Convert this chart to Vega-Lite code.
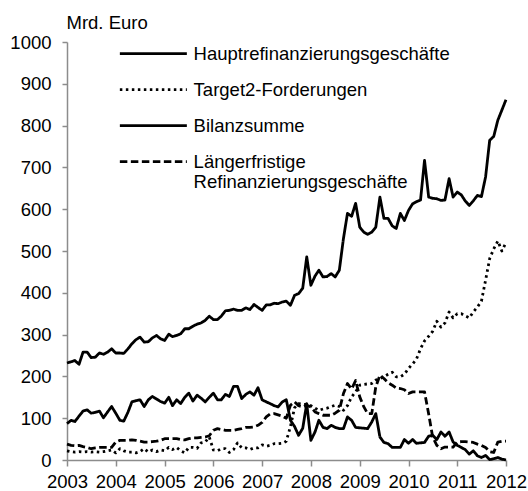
{
  "$schema": "https://vega.github.io/schema/vega-lite/v6.json",
  "width": 439,
  "height": 418,
  "autosize": {"type": "none"},
  "padding": {"left": 67, "top": 42, "right": 22, "bottom": 31},
  "background": "white",
  "config": {"view": {"stroke": null}, "font": "Liberation Sans"},
  "data": {"values": [
    {"Monat":"2003-01-01","Hauptrefinanzierungsgeschäfte":87,"Target2-Forderungen":22,"Bilanzsumme":232,"Längerfristige Refinanzierungsgeschäfte":38},
    {"Monat":"2003-02-01","Hauptrefinanzierungsgeschäfte":95,"Target2-Forderungen":20,"Bilanzsumme":235,"Längerfristige Refinanzierungsgeschäfte":35},
    {"Monat":"2003-03-01","Hauptrefinanzierungsgeschäfte":92,"Target2-Forderungen":19,"Bilanzsumme":238,"Längerfristige Refinanzierungsgeschäfte":34},
    {"Monat":"2003-04-01","Hauptrefinanzierungsgeschäfte":105,"Target2-Forderungen":20,"Bilanzsumme":229,"Längerfristige Refinanzierungsgeschäfte":35},
    {"Monat":"2003-05-01","Hauptrefinanzierungsgeschäfte":117,"Target2-Forderungen":19,"Bilanzsumme":258,"Längerfristige Refinanzierungsgeschäfte":32},
    {"Monat":"2003-06-01","Hauptrefinanzierungsgeschäfte":120,"Target2-Forderungen":20,"Bilanzsumme":258,"Längerfristige Refinanzierungsgeschäfte":30},
    {"Monat":"2003-07-01","Hauptrefinanzierungsgeschäfte":112,"Target2-Forderungen":19,"Bilanzsumme":245,"Längerfristige Refinanzierungsgeschäfte":27},
    {"Monat":"2003-08-01","Hauptrefinanzierungsgeschäfte":114,"Target2-Forderungen":20,"Bilanzsumme":246,"Längerfristige Refinanzierungsgeschäfte":29},
    {"Monat":"2003-09-01","Hauptrefinanzierungsgeschäfte":117,"Target2-Forderungen":19,"Bilanzsumme":256,"Längerfristige Refinanzierungsgeschäfte":30},
    {"Monat":"2003-10-01","Hauptrefinanzierungsgeschäfte":101,"Target2-Forderungen":20,"Bilanzsumme":253,"Längerfristige Refinanzierungsgeschäfte":30},
    {"Monat":"2003-11-01","Hauptrefinanzierungsgeschäfte":115,"Target2-Forderungen":22,"Bilanzsumme":258,"Längerfristige Refinanzierungsgeschäfte":30},
    {"Monat":"2003-12-01","Hauptrefinanzierungsgeschäfte":128,"Target2-Forderungen":24,"Bilanzsumme":266,"Längerfristige Refinanzierungsgeschäfte":30},
    {"Monat":"2004-01-01","Hauptrefinanzierungsgeschäfte":112,"Target2-Forderungen":17,"Bilanzsumme":256,"Längerfristige Refinanzierungsgeschäfte":43},
    {"Monat":"2004-02-01","Hauptrefinanzierungsgeschäfte":95,"Target2-Forderungen":27,"Bilanzsumme":256,"Längerfristige Refinanzierungsgeschäfte":47},
    {"Monat":"2004-03-01","Hauptrefinanzierungsgeschäfte":93,"Target2-Forderungen":22,"Bilanzsumme":255,"Längerfristige Refinanzierungsgeschäfte":47},
    {"Monat":"2004-04-01","Hauptrefinanzierungsgeschäfte":114,"Target2-Forderungen":19,"Bilanzsumme":266,"Längerfristige Refinanzierungsgeschäfte":47},
    {"Monat":"2004-05-01","Hauptrefinanzierungsgeschäfte":139,"Target2-Forderungen":19,"Bilanzsumme":278,"Längerfristige Refinanzierungsgeschäfte":48},
    {"Monat":"2004-06-01","Hauptrefinanzierungsgeschäfte":142,"Target2-Forderungen":17,"Bilanzsumme":288,"Längerfristige Refinanzierungsgeschäfte":47},
    {"Monat":"2004-07-01","Hauptrefinanzierungsgeschäfte":144,"Target2-Forderungen":20,"Bilanzsumme":294,"Längerfristige Refinanzierungsgeschäfte":45},
    {"Monat":"2004-08-01","Hauptrefinanzierungsgeschäfte":128,"Target2-Forderungen":27,"Bilanzsumme":282,"Längerfristige Refinanzierungsgeschäfte":43},
    {"Monat":"2004-09-01","Hauptrefinanzierungsgeschäfte":144,"Target2-Forderungen":19,"Bilanzsumme":283,"Längerfristige Refinanzierungsgeschäfte":43},
    {"Monat":"2004-10-01","Hauptrefinanzierungsgeschäfte":152,"Target2-Forderungen":24,"Bilanzsumme":292,"Längerfristige Refinanzierungsgeschäfte":44},
    {"Monat":"2004-11-01","Hauptrefinanzierungsgeschäfte":146,"Target2-Forderungen":20,"Bilanzsumme":298,"Längerfristige Refinanzierungsgeschäfte":45},
    {"Monat":"2004-12-01","Hauptrefinanzierungsgeschäfte":140,"Target2-Forderungen":24,"Bilanzsumme":290,"Längerfristige Refinanzierungsgeschäfte":47},
    {"Monat":"2005-01-01","Hauptrefinanzierungsgeschäfte":136,"Target2-Forderungen":22,"Bilanzsumme":286,"Längerfristige Refinanzierungsgeschäfte":51},
    {"Monat":"2005-02-01","Hauptrefinanzierungsgeschäfte":150,"Target2-Forderungen":30,"Bilanzsumme":301,"Längerfristige Refinanzierungsgeschäfte":51},
    {"Monat":"2005-03-01","Hauptrefinanzierungsgeschäfte":130,"Target2-Forderungen":25,"Bilanzsumme":295,"Längerfristige Refinanzierungsgeschäfte":51},
    {"Monat":"2005-04-01","Hauptrefinanzierungsgeschäfte":144,"Target2-Forderungen":30,"Bilanzsumme":298,"Längerfristige Refinanzierungsgeschäfte":51},
    {"Monat":"2005-05-01","Hauptrefinanzierungsgeschäfte":135,"Target2-Forderungen":22,"Bilanzsumme":302,"Längerfristige Refinanzierungsgeschäfte":49},
    {"Monat":"2005-06-01","Hauptrefinanzierungsgeschäfte":150,"Target2-Forderungen":17,"Bilanzsumme":314,"Längerfristige Refinanzierungsgeschäfte":48},
    {"Monat":"2005-07-01","Hauptrefinanzierungsgeschäfte":160,"Target2-Forderungen":30,"Bilanzsumme":314,"Längerfristige Refinanzierungsgeschäfte":51},
    {"Monat":"2005-08-01","Hauptrefinanzierungsgeschäfte":141,"Target2-Forderungen":30,"Bilanzsumme":320,"Längerfristige Refinanzierungsgeschäfte":53},
    {"Monat":"2005-09-01","Hauptrefinanzierungsgeschäfte":155,"Target2-Forderungen":28,"Bilanzsumme":325,"Längerfristige Refinanzierungsgeschäfte":53},
    {"Monat":"2005-10-01","Hauptrefinanzierungsgeschäfte":148,"Target2-Forderungen":41,"Bilanzsumme":328,"Längerfristige Refinanzierungsgeschäfte":54},
    {"Monat":"2005-11-01","Hauptrefinanzierungsgeschäfte":139,"Target2-Forderungen":43,"Bilanzsumme":334,"Längerfristige Refinanzierungsgeschäfte":55},
    {"Monat":"2005-12-01","Hauptrefinanzierungsgeschäfte":150,"Target2-Forderungen":55,"Bilanzsumme":344,"Längerfristige Refinanzierungsgeschäfte":58},
    {"Monat":"2006-01-01","Hauptrefinanzierungsgeschäfte":160,"Target2-Forderungen":24,"Bilanzsumme":336,"Längerfristige Refinanzierungsgeschäfte":71},
    {"Monat":"2006-02-01","Hauptrefinanzierungsgeschäfte":144,"Target2-Forderungen":22,"Bilanzsumme":336,"Längerfristige Refinanzierungsgeschäfte":75},
    {"Monat":"2006-03-01","Hauptrefinanzierungsgeschäfte":144,"Target2-Forderungen":27,"Bilanzsumme":344,"Längerfristige Refinanzierungsgeschäfte":73},
    {"Monat":"2006-04-01","Hauptrefinanzierungsgeschäfte":157,"Target2-Forderungen":27,"Bilanzsumme":357,"Längerfristige Refinanzierungsgeschäfte":71},
    {"Monat":"2006-05-01","Hauptrefinanzierungsgeschäfte":152,"Target2-Forderungen":18,"Bilanzsumme":358,"Längerfristige Refinanzierungsgeschäfte":71},
    {"Monat":"2006-06-01","Hauptrefinanzierungsgeschäfte":176,"Target2-Forderungen":25,"Bilanzsumme":361,"Längerfristige Refinanzierungsgeschäfte":71},
    {"Monat":"2006-07-01","Hauptrefinanzierungsgeschäfte":176,"Target2-Forderungen":41,"Bilanzsumme":358,"Längerfristige Refinanzierungsgeschäfte":73},
    {"Monat":"2006-08-01","Hauptrefinanzierungsgeschäfte":147,"Target2-Forderungen":29,"Bilanzsumme":358,"Längerfristige Refinanzierungsgeschäfte":75},
    {"Monat":"2006-09-01","Hauptrefinanzierungsgeschäfte":157,"Target2-Forderungen":29,"Bilanzsumme":364,"Längerfristige Refinanzierungsgeschäfte":78},
    {"Monat":"2006-10-01","Hauptrefinanzierungsgeschäfte":163,"Target2-Forderungen":25,"Bilanzsumme":360,"Längerfristige Refinanzierungsgeschäfte":78},
    {"Monat":"2006-11-01","Hauptrefinanzierungsgeschäfte":155,"Target2-Forderungen":29,"Bilanzsumme":372,"Längerfristige Refinanzierungsgeschäfte":79},
    {"Monat":"2006-12-01","Hauptrefinanzierungsgeschäfte":173,"Target2-Forderungen":29,"Bilanzsumme":365,"Längerfristige Refinanzierungsgeschäfte":83},
    {"Monat":"2007-01-01","Hauptrefinanzierungsgeschäfte":144,"Target2-Forderungen":36,"Bilanzsumme":358,"Längerfristige Refinanzierungsgeschäfte":90},
    {"Monat":"2007-02-01","Hauptrefinanzierungsgeschäfte":139,"Target2-Forderungen":33,"Bilanzsumme":371,"Längerfristige Refinanzierungsgeschäfte":103},
    {"Monat":"2007-03-01","Hauptrefinanzierungsgeschäfte":135,"Target2-Forderungen":35,"Bilanzsumme":371,"Längerfristige Refinanzierungsgeschäfte":110},
    {"Monat":"2007-04-01","Hauptrefinanzierungsgeschäfte":130,"Target2-Forderungen":39,"Bilanzsumme":375,"Längerfristige Refinanzierungsgeschäfte":111},
    {"Monat":"2007-05-01","Hauptrefinanzierungsgeschäfte":127,"Target2-Forderungen":39,"Bilanzsumme":374,"Längerfristige Refinanzierungsgeschäfte":108},
    {"Monat":"2007-06-01","Hauptrefinanzierungsgeschäfte":139,"Target2-Forderungen":40,"Bilanzsumme":378,"Längerfristige Refinanzierungsgeschäfte":105},
    {"Monat":"2007-07-01","Hauptrefinanzierungsgeschäfte":144,"Target2-Forderungen":45,"Bilanzsumme":380,"Längerfristige Refinanzierungsgeschäfte":100},
    {"Monat":"2007-08-01","Hauptrefinanzierungsgeschäfte":95,"Target2-Forderungen":80,"Bilanzsumme":370,"Längerfristige Refinanzierungsgeschäfte":131},
    {"Monat":"2007-09-01","Hauptrefinanzierungsgeschäfte":80,"Target2-Forderungen":125,"Bilanzsumme":394,"Längerfristige Refinanzierungsgeschäfte":139},
    {"Monat":"2007-10-01","Hauptrefinanzierungsgeschäfte":59,"Target2-Forderungen":135,"Bilanzsumme":398,"Längerfristige Refinanzierungsgeschäfte":130},
    {"Monat":"2007-11-01","Hauptrefinanzierungsgeschäfte":76,"Target2-Forderungen":133,"Bilanzsumme":411,"Längerfristige Refinanzierungsgeschäfte":127},
    {"Monat":"2007-12-01","Hauptrefinanzierungsgeschäfte":135,"Target2-Forderungen":133,"Bilanzsumme":486,"Längerfristige Refinanzierungsgeschäfte":131},
    {"Monat":"2008-01-01","Hauptrefinanzierungsgeschäfte":47,"Target2-Forderungen":130,"Bilanzsumme":418,"Längerfristige Refinanzierungsgeschäfte":127},
    {"Monat":"2008-02-01","Hauptrefinanzierungsgeschäfte":67,"Target2-Forderungen":124,"Bilanzsumme":440,"Längerfristige Refinanzierungsgeschäfte":115},
    {"Monat":"2008-03-01","Hauptrefinanzierungsgeschäfte":95,"Target2-Forderungen":119,"Bilanzsumme":454,"Längerfristige Refinanzierungsgeschäfte":111},
    {"Monat":"2008-04-01","Hauptrefinanzierungsgeschäfte":78,"Target2-Forderungen":122,"Bilanzsumme":438,"Längerfristige Refinanzierungsgeschäfte":107},
    {"Monat":"2008-05-01","Hauptrefinanzierungsgeschäfte":75,"Target2-Forderungen":124,"Bilanzsumme":439,"Längerfristige Refinanzierungsgeschäfte":107},
    {"Monat":"2008-06-01","Hauptrefinanzierungsgeschäfte":83,"Target2-Forderungen":128,"Bilanzsumme":446,"Längerfristige Refinanzierungsgeschäfte":107},
    {"Monat":"2008-07-01","Hauptrefinanzierungsgeschäfte":78,"Target2-Forderungen":131,"Bilanzsumme":438,"Längerfristige Refinanzierungsgeschäfte":112},
    {"Monat":"2008-08-01","Hauptrefinanzierungsgeschäfte":75,"Target2-Forderungen":128,"Bilanzsumme":454,"Längerfristige Refinanzierungsgeschäfte":119},
    {"Monat":"2008-09-01","Hauptrefinanzierungsgeschäfte":75,"Target2-Forderungen":119,"Bilanzsumme":530,"Längerfristige Refinanzierungsgeschäfte":159},
    {"Monat":"2008-10-01","Hauptrefinanzierungsgeschäfte":103,"Target2-Forderungen":130,"Bilanzsumme":590,"Längerfristige Refinanzierungsgeschäfte":183},
    {"Monat":"2008-11-01","Hauptrefinanzierungsgeschäfte":95,"Target2-Forderungen":151,"Bilanzsumme":583,"Längerfristige Refinanzierungsgeschäfte":170},
    {"Monat":"2008-12-01","Hauptrefinanzierungsgeschäfte":78,"Target2-Forderungen":163,"Bilanzsumme":614,"Längerfristige Refinanzierungsgeschäfte":190},
    {"Monat":"2009-01-01","Hauptrefinanzierungsgeschäfte":77,"Target2-Forderungen":179,"Bilanzsumme":557,"Längerfristige Refinanzierungsgeschäfte":151},
    {"Monat":"2009-02-01","Hauptrefinanzierungsgeschäfte":76,"Target2-Forderungen":181,"Bilanzsumme":545,"Längerfristige Refinanzierungsgeschäfte":127},
    {"Monat":"2009-03-01","Hauptrefinanzierungsgeschäfte":75,"Target2-Forderungen":182,"Bilanzsumme":540,"Längerfristige Refinanzierungsgeschäfte":111},
    {"Monat":"2009-04-01","Hauptrefinanzierungsgeschäfte":91,"Target2-Forderungen":183,"Bilanzsumme":545,"Längerfristige Refinanzierungsgeschäfte":111},
    {"Monat":"2009-05-01","Hauptrefinanzierungsgeschäfte":111,"Target2-Forderungen":191,"Bilanzsumme":557,"Längerfristige Refinanzierungsgeschäfte":175},
    {"Monat":"2009-06-01","Hauptrefinanzierungsgeschäfte":55,"Target2-Forderungen":195,"Bilanzsumme":629,"Längerfristige Refinanzierungsgeschäfte":203},
    {"Monat":"2009-07-01","Hauptrefinanzierungsgeschäfte":42,"Target2-Forderungen":199,"Bilanzsumme":578,"Längerfristige Refinanzierungsgeschäfte":195},
    {"Monat":"2009-08-01","Hauptrefinanzierungsgeschäfte":39,"Target2-Forderungen":205,"Bilanzsumme":578,"Längerfristige Refinanzierungsgeschäfte":185},
    {"Monat":"2009-09-01","Hauptrefinanzierungsgeschäfte":30,"Target2-Forderungen":210,"Bilanzsumme":560,"Längerfristige Refinanzierungsgeschäfte":179},
    {"Monat":"2009-10-01","Hauptrefinanzierungsgeschäfte":30,"Target2-Forderungen":199,"Bilanzsumme":554,"Längerfristige Refinanzierungsgeschäfte":172},
    {"Monat":"2009-11-01","Hauptrefinanzierungsgeschäfte":30,"Target2-Forderungen":199,"Bilanzsumme":590,"Längerfristige Refinanzierungsgeschäfte":171},
    {"Monat":"2009-12-01","Hauptrefinanzierungsgeschäfte":49,"Target2-Forderungen":205,"Bilanzsumme":573,"Längerfristige Refinanzierungsgeschäfte":168},
    {"Monat":"2010-01-01","Hauptrefinanzierungsgeschäfte":40,"Target2-Forderungen":219,"Bilanzsumme":597,"Längerfristige Refinanzierungsgeschäfte":159},
    {"Monat":"2010-02-01","Hauptrefinanzierungsgeschäfte":49,"Target2-Forderungen":230,"Bilanzsumme":613,"Längerfristige Refinanzierungsgeschäfte":163},
    {"Monat":"2010-03-01","Hauptrefinanzierungsgeschäfte":40,"Target2-Forderungen":241,"Bilanzsumme":618,"Längerfristige Refinanzierungsgeschäfte":163},
    {"Monat":"2010-04-01","Hauptrefinanzierungsgeschäfte":41,"Target2-Forderungen":266,"Bilanzsumme":622,"Längerfristige Refinanzierungsgeschäfte":163},
    {"Monat":"2010-05-01","Hauptrefinanzierungsgeschäfte":42,"Target2-Forderungen":285,"Bilanzsumme":717,"Längerfristige Refinanzierungsgeschäfte":163},
    {"Monat":"2010-06-01","Hauptrefinanzierungsgeschäfte":57,"Target2-Forderungen":296,"Bilanzsumme":629,"Längerfristige Refinanzierungsgeschäfte":110},
    {"Monat":"2010-07-01","Hauptrefinanzierungsgeschäfte":59,"Target2-Forderungen":308,"Bilanzsumme":626,"Längerfristige Refinanzierungsgeschäfte":55},
    {"Monat":"2010-08-01","Hauptrefinanzierungsgeschäfte":49,"Target2-Forderungen":332,"Bilanzsumme":625,"Längerfristige Refinanzierungsgeschäfte":35},
    {"Monat":"2010-09-01","Hauptrefinanzierungsgeschäfte":67,"Target2-Forderungen":318,"Bilanzsumme":621,"Längerfristige Refinanzierungsgeschäfte":27},
    {"Monat":"2010-10-01","Hauptrefinanzierungsgeschäfte":57,"Target2-Forderungen":328,"Bilanzsumme":622,"Längerfristige Refinanzierungsgeschäfte":31},
    {"Monat":"2010-11-01","Hauptrefinanzierungsgeschäfte":67,"Target2-Forderungen":354,"Bilanzsumme":673,"Längerfristige Refinanzierungsgeschäfte":31},
    {"Monat":"2010-12-01","Hauptrefinanzierungsgeschäfte":43,"Target2-Forderungen":340,"Bilanzsumme":629,"Längerfristige Refinanzierungsgeschäfte":31},
    {"Monat":"2011-01-01","Hauptrefinanzierungsgeschäfte":35,"Target2-Forderungen":350,"Bilanzsumme":641,"Längerfristige Refinanzierungsgeschäfte":43},
    {"Monat":"2011-02-01","Hauptrefinanzierungsgeschäfte":30,"Target2-Forderungen":350,"Bilanzsumme":634,"Längerfristige Refinanzierungsgeschäfte":44},
    {"Monat":"2011-03-01","Hauptrefinanzierungsgeschäfte":25,"Target2-Forderungen":345,"Bilanzsumme":620,"Längerfristige Refinanzierungsgeschäfte":44},
    {"Monat":"2011-04-01","Hauptrefinanzierungsgeschäfte":14,"Target2-Forderungen":340,"Bilanzsumme":609,"Längerfristige Refinanzierungsgeschäfte":43},
    {"Monat":"2011-05-01","Hauptrefinanzierungsgeschäfte":22,"Target2-Forderungen":354,"Bilanzsumme":620,"Längerfristige Refinanzierungsgeschäfte":42},
    {"Monat":"2011-06-01","Hauptrefinanzierungsgeschäfte":10,"Target2-Forderungen":366,"Bilanzsumme":633,"Längerfristige Refinanzierungsgeschäfte":38},
    {"Monat":"2011-07-01","Hauptrefinanzierungsgeschäfte":6,"Target2-Forderungen":380,"Bilanzsumme":630,"Längerfristige Refinanzierungsgeschäfte":35},
    {"Monat":"2011-08-01","Hauptrefinanzierungsgeschäfte":11,"Target2-Forderungen":430,"Bilanzsumme":677,"Längerfristige Refinanzierungsgeschäfte":30},
    {"Monat":"2011-09-01","Hauptrefinanzierungsgeschäfte":1,"Target2-Forderungen":482,"Bilanzsumme":765,"Längerfristige Refinanzierungsgeschäfte":20},
    {"Monat":"2011-10-01","Hauptrefinanzierungsgeschäfte":3,"Target2-Forderungen":505,"Bilanzsumme":774,"Längerfristige Refinanzierungsgeschäfte":18},
    {"Monat":"2011-11-01","Hauptrefinanzierungsgeschäfte":6,"Target2-Forderungen":524,"Bilanzsumme":813,"Längerfristige Refinanzierungsgeschäfte":43},
    {"Monat":"2011-12-01","Hauptrefinanzierungsgeschäfte":2,"Target2-Forderungen":500,"Bilanzsumme":837,"Längerfristige Refinanzierungsgeschäfte":45},
    {"Monat":"2012-01-01","Hauptrefinanzierungsgeschäfte":0,"Target2-Forderungen":520,"Bilanzsumme":862,"Längerfristige Refinanzierungsgeschäfte":45}
  ]},
  "transform": [
    {"fold": ["Hauptrefinanzierungsgeschäfte", "Target2-Forderungen", "Bilanzsumme", "Längerfristige Refinanzierungsgeschäfte"], "as": ["Reihe", "Wert"]}
  ],
  "mark": {"type": "line", "color": "black", "strokeWidth": 2.8, "strokeCap": "butt", "strokeJoin": "round"},
  "encoding": {
    "x": {
      "field": "Monat", "type": "temporal",
      "scale": {"type": "utc", "domain": [{"year": 2003, "month": 1, "date": 1, "utc": true}, {"year": 2012, "month": 1, "date": 1, "utc": true}]},
      "axis": {"title": null, "format": "%Y", "tickCount": {"interval": "year", "step": 1}, "grid": false,
        "labelFontSize": 18.5, "labelColor": "black", "labelFlush": false, "labelOverlap": false,
        "tickSize": 6, "tickColor": "#8c8c8c", "tickWidth": 1.5, "labelPadding": 6,
        "domainColor": "#8c8c8c", "domainWidth": 1.5}
    },
    "y": {
      "field": "Wert", "type": "quantitative",
      "scale": {"domain": [0, 1000], "nice": false},
      "axis": {"title": "Mrd. Euro", "titleAngle": 0, "titleAlign": "left", "titleBaseline": "alphabetic",
        "titleX": -1, "titleY": -14, "titleFontSize": 18.5, "titleFontWeight": "normal", "titleColor": "black",
        "values": [0, 100, 200, 300, 400, 500, 600, 700, 800, 900, 1000], "format": "d", "grid": false,
        "labelFontSize": 18.5, "labelColor": "black", "labelPadding": 11,
        "tickSize": 5, "tickColor": "#8c8c8c", "tickWidth": 1.5,
        "domainColor": "#8c8c8c", "domainWidth": 1.5}
    },
    "strokeDash": {
      "field": "Reihe", "type": "nominal",
      "scale": {"domain": ["Hauptrefinanzierungsgeschäfte", "Target2-Forderungen", "Bilanzsumme", "Längerfristige Refinanzierungsgeschäfte"],
        "range": [[1, 0], [2.5, 3.5], [1, 0], [7.5, 3.5]]},
      "legend": {"orient": "none", "legendX": 50, "legendY": 2.3, "title": null,
        "symbolType": "M-6.7,0H6.7", "symbolSize": 100, "symbolStrokeWidth": 2.8, "symbolStrokeColor": "black",
        "symbolOffset": 27.1,
        "labelFontSize": 18.5, "labelColor": "black", "labelLimit": 0, "labelOffset": 31, "rowPadding": 17,
        "labelExpr": "datum.label == 'Längerfristige Refinanzierungsgeschäfte' ? ['Längerfristige', 'Refinanzierungsgeschäfte'] : datum.label"}
    }
  }
}
